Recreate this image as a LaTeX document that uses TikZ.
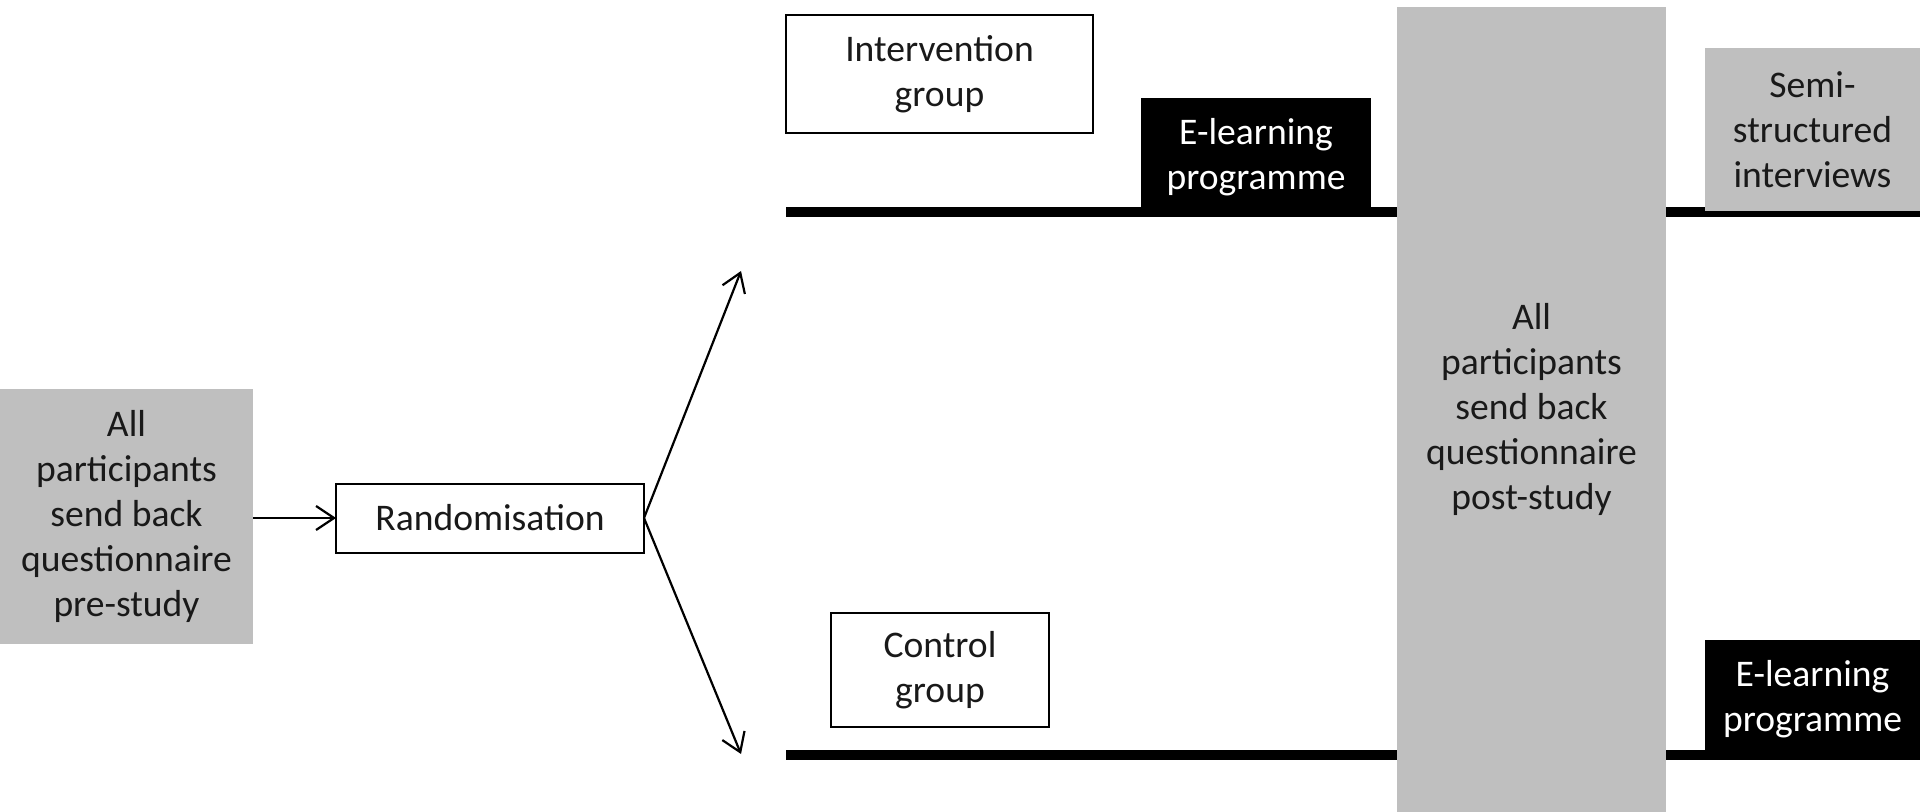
\documentclass[tikz,border=0pt]{standalone}
\usepackage{fontspec}
\setmainfont{Carlito}
\usetikzlibrary{arrows.meta}
\definecolor{boxgray}{RGB}{191,191,191}
\definecolor{txt}{RGB}{25,25,25}
\begin{document}
\begin{tikzpicture}[x=0.5pt,y=-0.5pt,
  every node/.style={inner sep=0pt, outer sep=0pt, align=center,
    font=\fontsize{18.8}{22.5}\selectfont, text=txt},
  graybox/.style={fill=boxgray, draw=none},
  whitebox/.style={draw=black, line width=1pt, fill=white},
  blackbox/.style={fill=black, text=white},
  timeline/.style={line width=5pt, draw=black},
  arr/.style={line width=1.1pt, draw=black,
    -{Straight Barb[length=9pt,width=12pt,line width=1.1pt]}}
]
\fill[white] (0,0) rectangle (1920,812);
\useasboundingbox (0,0) rectangle (1920,812);

% timelines
\coordinate (ts) at (786,212);
\coordinate (te) at (1920,212);
\coordinate (bs) at (786,755);
\coordinate (be) at (1920,755);
\draw[timeline] (ts) -- (te);
\draw[timeline] (bs) -- (be);

% boxes
\node[graybox, minimum width=126.5pt, minimum height=127.5pt] (pre) at (126.5,516.5)
  {All\\participants\\send back\\questionnaire\\pre-study};
\node[whitebox, minimum width=154pt, minimum height=34.5pt] (rand) at (490,518)
  {Randomisation};
\node[whitebox, minimum width=153.5pt, minimum height=59pt] (int) at (939.5,74)
  {Intervention\\group};
\node[whitebox, minimum width=109pt, minimum height=57pt] (ctrl) at (940,670)
  {Control\\group};
\node[blackbox, minimum width=115pt, minimum height=59.5pt] (el1) at (1256,157.5)
  {E-learning\\programme};
\node[graybox, minimum width=134.5pt, minimum height=402.5pt] (post) at (1531.5,409.5)
  {All\\participants\\send back\\questionnaire\\post-study};
\node[graybox, minimum width=107.5pt, minimum height=81.5pt] (semi) at (1812.5,129.5)
  {Semi-\\structured\\interviews};
\node[blackbox, minimum width=107.5pt, minimum height=59.5pt] (el2) at (1812.5,699.5)
  {E-learning\\programme};

% arrows
\coordinate (upTip) at (741,271);
\coordinate (dnTip) at (741,754);
\draw[arr] (pre.east |- rand.west) -- (rand.west);
\draw[arr] (rand.east) -- (upTip);
\draw[arr] (rand.east) -- (dnTip);
\end{tikzpicture}
\end{document}
